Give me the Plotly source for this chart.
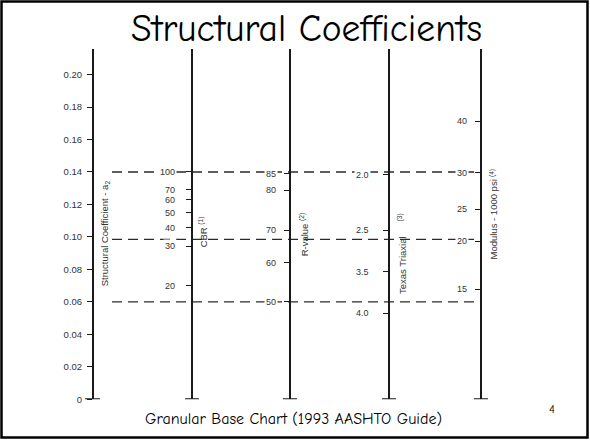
import plotly.graph_objects as go

# Structural coefficient scale a2 (the master scale)
A2_TICKS = [0, 0.02, 0.04, 0.06, 0.08, 0.10, 0.12, 0.14, 0.16, 0.18, 0.20]
A2_LABELS = ["0", "0.02", "0.04", "0.06", "0.08", "0.10", "0.12", "0.14", "0.16", "0.18", "0.20"]

# Each companion scale: tick labels and the a2 value they line up with
CBR_LABELS = ["100", "70", "60", "50", "40", "30", "20"]
CBR_A2 = [0.140, 0.129, 0.123, 0.115, 0.1055, 0.0944, 0.070]

RVALUE_LABELS = ["85", "80", "70", "60", "50"]
RVALUE_A2 = [0.139, 0.1287, 0.1041, 0.084, 0.060]

TEXAS_LABELS = ["2.0", "2.5", "3.5", "4.0"]
TEXAS_A2 = [0.1384, 0.1041, 0.0785, 0.0529]

MODULUS_LABELS = ["40", "30", "25", "20", "15"]
MODULUS_A2 = [0.1713, 0.1395, 0.1171, 0.0974, 0.0677]

# Example read-across lines (dashed)
EXAMPLE_A2 = [0.14, 0.0985, 0.06]

# ---------------- layout constants ----------------
W, H = 590, 445
SCALE_X = [93, 192, 290, 389, 481]        # horizontal position of each scale line (px)
LABEL_GAP = [8, 16, 13, 19, 13]            # gap between tick label and scale line (px)
Y_RANGE = [0, 0.2155]
DOMAIN = [1 - 403.8 / H, 1 - 50 / H]
INK = "#1a1a1a"
TXT = "#333333"
NUM_FONT = "Liberation Sans, Arial, sans-serif"
SLIDE_FONT = "Comic Sans MS, Comic Neue, DejaVu Sans, sans-serif"

fig = go.Figure()

# dashed example lines (on the master a2 axis)
dx, dy = [], []
for v in EXAMPLE_A2:
    dx += [112, SCALE_X[-1], None]
    dy += [v, v, None]
fig.add_trace(go.Scatter(x=dx, y=dy, mode="lines", yaxis="y",
                         line=dict(color="#2a2a2a", width=1.4, dash="10px,6px"),
                         hoverinfo="skip", showlegend=False))

# bottom caps of each scale (one trace per axis)
axis_names = ["y", "y2", "y3", "y4", "y5"]
cap_half = [(8, 7), (7, 7), (7, 7), (7, 7), (7, 7)]
for i, (p, ax) in enumerate(zip(SCALE_X, axis_names)):
    l, r = cap_half[i]
    fig.add_trace(go.Scatter(x=[p - l, p + r], y=[0, 0], mode="lines", yaxis=ax,
                             line=dict(color=INK, width=2),
                             hoverinfo="skip", showlegend=False))

tick_sets = [A2_TICKS, CBR_A2, RVALUE_A2, TEXAS_A2, MODULUS_A2]
base_axis = dict(range=Y_RANGE, domain=DOMAIN, showgrid=False, zeroline=False,
                 showline=True, linecolor=INK, linewidth=1.8,
                 ticks="outside", ticklen=5, tickwidth=1.2, tickcolor=INK,
                 anchor="free", fixedrange=True)

layout_axes = {}
for i, ax in enumerate(axis_names):
    key = "yaxis" if i == 0 else "yaxis%d" % (i + 1)
    cfg = dict(base_axis)
    cfg["position"] = SCALE_X[i] / W
    cfg["tickvals"] = tick_sets[i]
    if i == 0:
        cfg["ticktext"] = A2_LABELS
        cfg["showticklabels"] = True
        cfg["tickfont"] = dict(family=NUM_FONT, size=9.5, color=TXT)
        cfg["ticklabelstandoff"] = 3
        cfg["linewidth"] = 2
    else:
        cfg["overlaying"] = "y"
        cfg["showticklabels"] = False
    layout_axes[key] = cfg

annotations = []
label_sets = [None, CBR_LABELS, RVALUE_LABELS, TEXAS_LABELS, MODULUS_LABELS]
for i in range(1, 5):
    for lab, v in zip(label_sets[i], tick_sets[i]):
        annotations.append(dict(x=SCALE_X[i], y=v, xref="x", yref="y", text=lab,
                                showarrow=False, xanchor="right", yanchor="middle",
                                xshift=-LABEL_GAP[i] + 1, bgcolor="white", borderpad=1,
                                font=dict(family=NUM_FONT, size=9, color=TXT)))

# rotated scale titles
def rot(text, xpx, ypx, size=9.5):
    return dict(x=xpx, y=1 - ypx / H, xref="x", yref="paper", text=text, textangle=-90,
                showarrow=False, xanchor="center", yanchor="middle",
                font=dict(family=NUM_FONT, size=size, color=TXT))

annotations += [
    rot("Structural Coefficient - a<sub>2</sub>", 105, 236),
    rot("CBR <sup>(1)</sup>", 203, 235),
    rot("R-value <sup>(2)</sup>", 304, 237),
    rot("<sup>(3)</sup>", 400, 220),
    rot("Texas Triaxial", 403, 268),
    rot("<sup>(4)</sup>", 492, 175),
    rot("Modulus - 1000 psi", 494, 222),
]

# slide title, caption, page number
annotations += [
    dict(x=306, y=1 - 29 / H, xref="x", yref="paper", text="Structural Coefficients",
         showarrow=False, xanchor="center", yanchor="middle",
         font=dict(family=SLIDE_FONT, size=37.5, color="black")),
    dict(x=293, y=1 - 424 / H, xref="x", yref="paper",
         text="Granular Base Chart (1993 AASHTO Guide)",
         showarrow=False, xanchor="center", yanchor="middle",
         font=dict(family=SLIDE_FONT, size=16, color="black")),
    dict(x=552, y=1 - 414 / H, xref="x", yref="paper", text="4",
         showarrow=False, xanchor="center", yanchor="middle",
         font=dict(family=SLIDE_FONT, size=12, color="black")),
]

fig.update_layout(
    width=W, height=H, autosize=False,
    margin=dict(l=0, r=0, t=0, b=0, pad=0),
    paper_bgcolor="white", plot_bgcolor="white",
    xaxis=dict(range=[0, W], visible=False, fixedrange=True, domain=[0, 1]),
    showlegend=False,
    annotations=annotations,
    shapes=[dict(type="rect", xref="paper", yref="paper",
                 x0=1.5 / W, x1=1 - 2.5 / W, y0=2.5 / H, y1=1 - 1.5 / H,
                 line=dict(color="black", width=2.5))],
    **layout_axes,
)

fig.write_html("out.html", post_script="document.body.style.margin='0';", config={"displayModeBar": False})
